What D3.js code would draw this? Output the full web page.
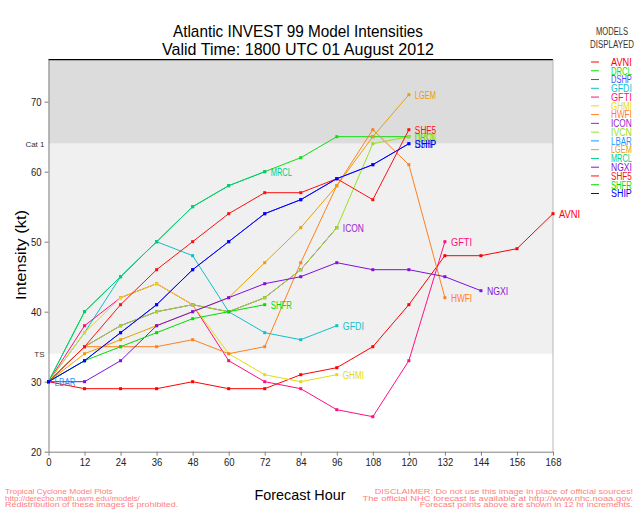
<!DOCTYPE html>
<html><head><meta charset="utf-8">
<script src="https://cdn.jsdelivr.net/npm/d3@7"></script>
<style>body{margin:0;background:#fff;} svg{display:block;font-family:"Liberation Sans","DejaVu Sans",Arial,sans-serif;}</style>
</head><body><svg id="c" width="640" height="512"></svg>
<script>
// ---- data ----
const hours = [0,12,24,36,48,60,72,84,96,108,120,132,144,156,168];
const modelNames = ["AVNI","DRCL","DSHP","GFDI","GFTI","GHMI","HWFI","ICON","IVCN","LBAR","LGEM","MRCL","NGXI","SHF5","SHFR","SHIP"];
const AVNI = [30,29,29,29,30,29,29,31,32,35,41,48,48,49,54];
const DRCL = [30,40,45,50,55,58,60,62,65,65,65];
const DSHP = [30,33,37,41,46,50,54,56,59,61,64];
const GFDI = [30,37,45,50,48,40,37,36,38];
const GFTI = [30,38,42,44,41,33,30,29,26,25,33,50];
const GHMI = [30,37,42,44,41,34,31,30,31];
const HWFI = [30,35,35,35,36,34,35,47,58,66,61,42];
const ICON = [30,35,38,40,41,40,42,46,52];
const IVCN = [30,35,38,40,41,40,42,46,52,64,65];
const LBAR = [30];
const LGEM = [30,34,36,38,40,42,47,52,58,65,71];
const MRCL = [30,40,45,50,55,58,60];
const NGXI = [30,30,33,38,40,42,44,45,47,46,46,45,43];
const SHF5 = [30,35,41,46,50,54,57,57,59,56,66];
const SHFR = [30,33,35,37,39,40,41];
const SHIP = [30,33,37,41,46,50,54,56,59,61,64];
const yTicks = [20,30,40,50,60,70];
const thresholdLabels = ["TS","Cat 1"];
const thresholdValues = [34,64];
const titleLines = ["Atlantic INVEST 99 Model Intensities","Valid Time: 1800 UTC 01 August 2012"];
const legendTitle = ["MODELS","DISPLAYED"];
const footerLeft = ["Tropical Cyclone Model Plots","http://derecho.math.uwm.edu/models/","Redistribution of these images is prohibited."];
const footerRight = ["DISCLAIMER: Do not use this image in place of official sources!","The official NHC forecast is available at http://www.nhc.noaa.gov.","Forecast points above are shown in 12 hr increments."];

const seriesValues = {AVNI,DRCL,DSHP,GFDI,GFTI,GHMI,HWFI,ICON,IVCN,LBAR,LGEM,MRCL,NGXI,SHF5,SHFR,SHIP};
const colors = {AVNI:"#ff0000",DRCL:"#10dd10",DSHP:"#4848ff",GFDI:"#10c0c8",GFTI:"#ff1080",GHMI:"#e4dc10",
  HWFI:"#ff8020",ICON:"#9a20d0",IVCN:"#98e020",LBAR:"#1e96ff",LGEM:"#eaa000",MRCL:"#00cc80",
  NGXI:"#8010e0",SHF5:"#ff1010",SHFR:"#00dd00",SHIP:"#0000ff"};

// ---- layout ----
const svg = d3.select("#c");
const x = d3.scaleLinear().domain([0,168]).range([48.5,553]);
const y = d3.scaleLinear().domain([20,76]).range([451.7,59.7]);
const [x0,x1] = x.range();

// background bands
svg.append("rect").attr("x",x0).attr("width",x1-x0).attr("y",y(76)).attr("height",y(64)-y(76)).attr("fill","#dcdcdc");
svg.append("rect").attr("x",x0).attr("width",x1-x0).attr("y",y(64)).attr("height",y(34)-y(64)).attr("fill","#f0f0f0");

// frame
svg.append("line").attr("x1",x0).attr("x2",x1).attr("y1",y(76)).attr("y2",y(76)).attr("stroke","#000").attr("stroke-width",1.2);
svg.append("line").attr("x1",x1).attr("x2",x1).attr("y1",y(76)).attr("y2",y(20)).attr("stroke","#b8b8b8");

// axes
const yAxis = svg.append("g").attr("transform",`translate(${x0},0)`)
  .call(d3.axisLeft(y).tickValues(yTicks).tickSize(4).tickSizeOuter(0).tickPadding(3));
const xAxis = svg.append("g").attr("transform",`translate(0,${y(20)})`)
  .call(d3.axisBottom(x).tickValues(hours).tickSize(4).tickSizeOuter(0).tickPadding(3));
[yAxis,xAxis].forEach(g=>{
  g.select(".domain").attr("stroke","#808080");
  g.selectAll(".tick line").attr("stroke","#808080");
  g.selectAll(".tick text").attr("fill","#222").attr("font-size",11)
    .attr("textLength",function(){return this.textContent.length*5.3;}).attr("lengthAdjust","spacingAndGlyphs");
});

// threshold labels
svg.selectAll(".thr").data(thresholdValues).join("text")
  .attr("x",x0-4).attr("y",d=>y(d)+3).attr("text-anchor","end")
  .attr("font-size",8).attr("fill","#333").text((d,i)=>thresholdLabels[i]);

// series
const line = d3.line().x((d,i)=>x(hours[i])).y(d=>y(d));
const plot = svg.append("g");
modelNames.forEach(name=>{
  const vals = seriesValues[name];
  const c = colors[name];
  if (vals.length>1) plot.append("path").datum(vals).attr("d",line).attr("fill","none").attr("stroke",c).attr("stroke-width",1);
  plot.selectAll(null).data(vals).join("rect")
    .attr("x",(d,i)=>x(hours[i])-1.5).attr("y",d=>y(d)-1.5).attr("width",3).attr("height",3).attr("fill",c);
});
modelNames.forEach(name=>{
  const vals = seriesValues[name];
  const i = vals.length-1;
  plot.append("text").attr("x",x(hours[i])+6).attr("y",y(vals[i])+4)
    .attr("font-size",10).attr("fill",colors[name])
    .attr("textLength",name.length*5.3).attr("lengthAdjust","spacingAndGlyphs").text(name);
});

// titles
titleLines.forEach((t,i)=>{
  svg.append("text").attr("x",298).attr("y",37+i*18).attr("text-anchor","middle")
    .attr("font-size",17).attr("fill","#000")
    .attr("textLength",i===0?250:272).attr("lengthAdjust","spacingAndGlyphs").text(t);
});

// axis titles
svg.append("text").attr("x",300).attr("y",500).attr("text-anchor","middle").attr("font-size",15)
  .attr("textLength",91).attr("lengthAdjust","spacingAndGlyphs").text("Forecast Hour");
svg.append("text").attr("transform","translate(26,255) rotate(-90)").attr("text-anchor","middle").attr("font-size",15)
  .attr("textLength",90).attr("lengthAdjust","spacingAndGlyphs").text("Intensity (kt)");

// legend
const lg = svg.append("g");
legendTitle.forEach((t,i)=>{
  lg.append("text").attr("x",612).attr("y",35+i*13).attr("text-anchor","middle").attr("font-size",10).attr("fill","#333")
    .attr("textLength",i?44:32).attr("lengthAdjust","spacingAndGlyphs").text(t);
});
const ly = d3.scaleLinear().domain([0,modelNames.length-1]).range([62,193.5]);
modelNames.forEach((name,i)=>{
  lg.append("line").attr("x1",591).attr("x2",599).attr("y1",ly(i)).attr("y2",ly(i)).attr("stroke",colors[name]).attr("stroke-width",1);
  lg.append("text").attr("x",611).attr("y",ly(i)+3.8).attr("font-size",10).attr("fill",colors[name])
    .attr("textLength",name.length*5.2).attr("lengthAdjust","spacingAndGlyphs").text(name);
});

// footers
footerLeft.forEach((t,i)=>{
  svg.append("text").attr("x",5).attr("y",494+i*6.6).attr("font-size",8).attr("fill","#ff8080")
    .attr("textLength",t.length*3.85).attr("lengthAdjust","spacingAndGlyphs").text(t);
});
footerRight.forEach((t,i)=>{
  svg.append("text").attr("x",633).attr("y",494+i*6.6).attr("text-anchor","end").attr("font-size",8).attr("fill","#ff8080")
    .attr("textLength",t.length*4.1).attr("lengthAdjust","spacingAndGlyphs").text(t);
});
</script></body></html>
